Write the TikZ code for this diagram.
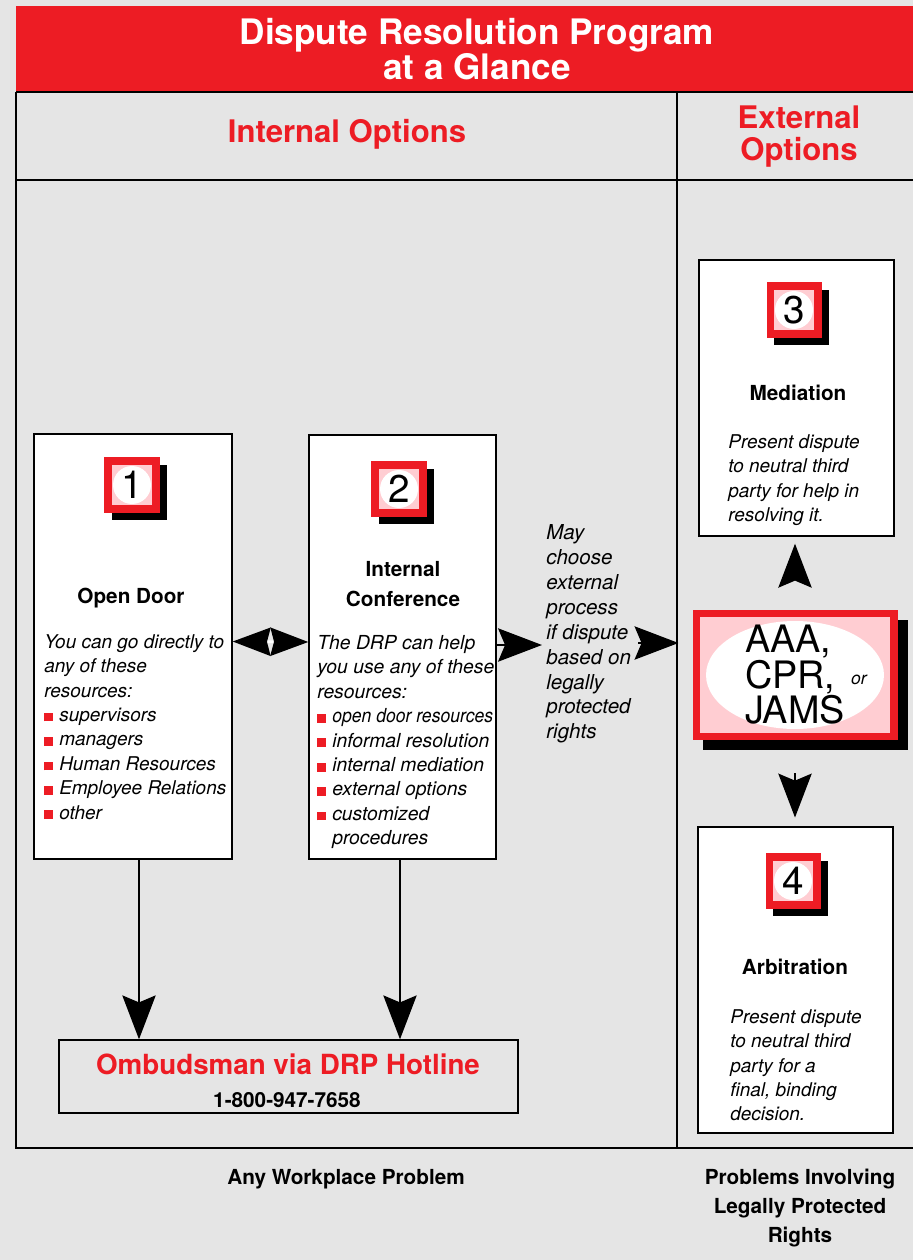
\documentclass[tikz,border=0pt]{standalone}
\usepackage{fontspec}
\setmainfont{TeX Gyre Heros}
\usetikzlibrary{arrows.meta,fit,shadows}

% red square bullet for the resource lists
\newcommand{\redsq}{{\color{drpred}\rule{5pt}{5pt}}\hspace{3.5pt}}

\begin{document}
\begin{tikzpicture}[x=0.02cm, y=-0.02cm,
	gridline/.style={line width=0.8pt, draw=black},
	box/.style={draw=black, line width=0.8pt, fill=white, inner sep=0pt},
	badge/.style={draw=drpred, line width=4pt, fill=drpink, minimum size=0.96cm, inner sep=0pt,
		font=\fontsize{22}{22}\selectfont,
		path picture={\fill[white] (path picture bounding box.center) circle (0.38cm);},
		drop shadow={shadow xshift=0.15cm, shadow yshift=-0.15cm, opacity=1, fill=black, draw=black, line width=4pt}},
	boxtitle/.style={font=\fontsize{11.8}{17}\selectfont\bfseries, align=center},
	body/.style={font=\fontsize{10.8}{13.9}\selectfont\itshape, align=left, anchor=north west, inner sep=0pt},
	label/.style={font=\fontsize{11.8}{16.5}\selectfont\bfseries, align=center},
	bigtip/.style={-{Stealth[length=25pt, width=19pt, inset=4pt]}, line width=0.8pt}
	]
	% Define colors
	\definecolor{drpred}{RGB}{237,28,36}
	\definecolor{drpink}{RGB}{255,205,210}
	\definecolor{drpbg}{RGB}{229,229,229}
	
	% Page
	\useasboundingbox (0,0) rectangle (913,1260);
	\fill[drpbg] (0,0) rectangle (913,1260);
	
	% Title band and column frame
	\fill[drpred] (16,6) rectangle (913,92);
	\draw[gridline] (16,92) -- (913,92);
	\draw[gridline] (16,92) -- (16,1148) -- (913,1148);
	\draw[gridline] (677,92) -- (677,1148);
	\draw[line width=1.6pt] (16,180) -- (913,180);
	
	\node[font=\fontsize{20}{19.5}\selectfont\bfseries, color=white, align=center] (title) at (477,49) {Dispute Resolution Program\\at a Glance};
	\node[font=\fontsize{17.7}{18.2}\selectfont\bfseries, color=drpred] (inthead) at (347,134) {Internal Options};
	\node[font=\fontsize{17.7}{18.2}\selectfont\bfseries, color=drpred, align=center] (exthead) at (799,137) {External\\Options};
	
	% Internal options
	\node[box, fit={(34,434) (232,859)}] (open) {};
	\node[badge] (b1) at (132,485) {1};
	\node[boxtitle] (opentitle) at (131,598) {Open Door};
	\node[body] (opentext) at (44,634) {You can go directly to\\any of these\\resources:\\\redsq supervisors\\\redsq managers\\\redsq Human Resources\\\redsq Employee Relations\\\redsq other};
	
	\node[box, fit={(309,435) (496,859)}] (conf) {};
	\node[badge] (b2) at (399,489) {2};
	\node[boxtitle] (conftitle) at (403,584) {Internal\\Conference};
	\node[body, font=\fontsize{11}{13.9}\selectfont\itshape] (conftext) at (317,635) {The DRP can help\\you use any of these\\resources:\\\redsq\scalebox{0.91}[1]{open door resources}\\\redsq informal resolution\\\redsq internal mediation\\\redsq external options\\\redsq customized\\\hspace{8.5pt}procedures};
	
	\node[box, fill=none, fit={(59,1040) (518,1113)}] (ombud) {};
	\node[font=\fontsize{15.8}{16}\selectfont\bfseries, color=drpred] (ombudname) at (288,1064) {Ombudsman via DRP Hotline};
	\node[label] (phone) at (287,1100) {1-800-947-7658};
	
	\node[body, font=\fontsize{11.7}{14.2}\selectfont\itshape] (may) at (546,524) {May\\choose\\external\\process\\if dispute\\based on\\legally\\protected\\rights};
	
	% External options
	\node[box, fit={(699,260) (894,536)}] (med) {};
	\node[badge] (b3) at (794,310) {3};
	\node[boxtitle] (medtitle) at (798,393) {Mediation};
	\node[body] (medtext) at (728,434) {Present dispute\\to neutral third\\party for help in\\resolving it.};
	
	\node[draw=drpred, line width=4pt, fill=drpink, minimum width=3.96cm, minimum height=2.46cm, inner sep=0pt,
		align=left, font=\fontsize{21.5}{17.8}\selectfont,
		path picture={\fill[white] (path picture bounding box.center) ellipse (1.78cm and 1.08cm);},
		drop shadow={shadow xshift=0.2cm, shadow yshift=-0.2cm, opacity=1, fill=black, draw=black, line width=4pt}]
		(aaa) at (795,675) {AAA,\\CPR,\\JAMS};
	\node[font=\fontsize{10}{10}\selectfont\itshape] (or) at (859,680) {or};
	
	\node[box, fit={(698,827) (893,1133)}] (arb) {};
	\node[badge] (b4) at (793,881) {4};
	\node[boxtitle] (arbtitle) at (795,967) {Arbitration};
	\node[body] (arbtext) at (730,1009) {Present dispute\\to neutral third\\party for a\\final, binding\\decision.};
	
	% Arrows
	\draw[{Stealth[length=21.5pt, width=16pt, inset=2pt, color=black]}-{Stealth[length=21.5pt, width=16pt, inset=2pt, color=black]}, line width=1.5pt, draw=white]
		([yshift=0.1cm]open.east) -- ([yshift=0.1cm]conf.west);
	\draw[bigtip] ([xshift=0.12cm]open.south) -- ([xshift=0.12cm]open.south |- ombud.north);
	\draw[bigtip] ([xshift=-0.05cm]conf.south) -- ([xshift=-0.05cm]conf.south |- ombud.north);
	\draw[bigtip, shorten >=2.3pt] ([yshift=0.04cm]conf.east) -- ([yshift=0.04cm]conf.east -| may.west);
	\draw[bigtip, shorten <=4pt, shorten >=8pt] ([yshift=0.08cm]conf.east -| may.east) -- ([yshift=0.08cm]conf.east -| aaa.west);
	\draw[bigtip, shorten <=17.5pt, shorten >=4pt] (aaa.north) -- (aaa.north |- med.south);
	\draw[bigtip, shorten <=19pt, shorten >=5pt] (aaa.south) -- (aaa.south |- arb.north);
	
	% Column footers
	\node[label] (intfoot) at (346,1179) {Any Workplace Problem};
	\node[label] (extfoot) at (800,1208) {Problems Involving\\Legally Protected\\Rights};
\end{tikzpicture}
\end{document}
